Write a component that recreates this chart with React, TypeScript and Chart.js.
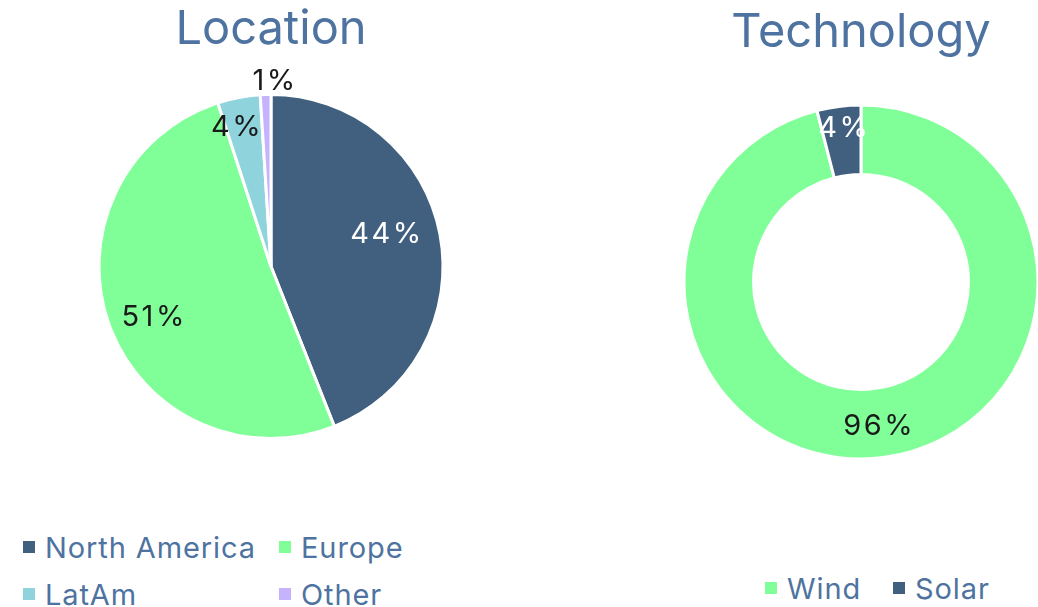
import React, { useEffect, useRef } from "react";
import { Chart, registerables } from "chart.js";

Chart.register(...registerables);

// ---- data ----
const locationLabels = ["North America", "Europe", "LatAm", "Other"];
const locationValues = [44, 51, 4, 1];
const locationColors = ["#41607f", "#80ff99", "#8fd3dc", "#c6b3fe"];

const technologyLabels = ["Wind", "Solar"];
const technologyValues = [96, 4];
const technologyColors = ["#80ff99", "#41607f"];

// ---- styles ----
const FONT = "Inter, 'DejaVu Sans', sans-serif";
const TEXT_BLUE = "#4e73a0";
const DARK = "#1a1a1a";

const sliceLabels = {
  id: "sliceLabels",
  afterDatasetsDraw(chart: any, _args: any, opts: any) {
    const meta = chart.getDatasetMeta(0);
    const data = chart.data.datasets[0].data as number[];
    const total = data.reduce((a, b) => a + b, 0);
    const ctx = chart.ctx as any;
    ctx.save();
    ctx.font = `${opts.size}px ${FONT}`;
    ctx.letterSpacing = opts.spacing || "0px";
    ctx.textAlign = "center";
    ctx.textBaseline = "middle";
    meta.data.forEach((arc: any, i: number) => {
      const p = arc.getProps(["x", "y", "startAngle", "endAngle", "innerRadius", "outerRadius"], true);
      const shift = (((opts.angle && opts.angle[i]) || 0) * Math.PI) / 180;
      const mid = (p.startAngle + p.endAngle) / 2 + shift;
      const r = p.innerRadius + (p.outerRadius - p.innerRadius) * opts.radial[i];
      const dx = (opts.dx && opts.dx[i]) || 0;
      ctx.fillStyle = opts.colors[i];
      ctx.fillText(
        Math.round((data[i] / total) * 100) + "%",
        p.x + Math.cos(mid) * r + dx,
        p.y + Math.sin(mid) * r
      );
    });
    ctx.restore();
  },
};

function PieChart(props: {
  type: "pie" | "doughnut";
  title: string;
  labels: string[];
  values: number[];
  colors: string[];
  radius: number;
  cutout: number;
  titlePadTop: number;
  padBottom: number;
  labelOpts: any;
}) {
  const ref = useRef<HTMLCanvasElement | null>(null);
  useEffect(() => {
    if (!ref.current) return;
    const chart = new Chart(ref.current, {
      type: props.type,
      data: {
        labels: props.labels,
        datasets: [
          {
            data: props.values,
            backgroundColor: props.colors,
            borderColor: "#ffffff",
            borderWidth: 3,
          },
        ],
      },
      options: {
        animation: false,
        responsive: true,
        maintainAspectRatio: false,
        radius: props.radius,
        cutout: props.cutout,
        events: [],
        layout: { padding: { top: 0, bottom: props.padBottom, left: 0, right: 0 } },
        plugins: {
          legend: { display: false },
          tooltip: { enabled: false },
          title: {
            display: true,
            text: props.title,
            color: TEXT_BLUE,
            font: { family: FONT, size: 47, weight: "normal", lineHeight: 1.2 },
            padding: { top: props.titlePadTop, bottom: 0 },
          },
          sliceLabels: props.labelOpts,
        },
      } as any,
      plugins: [sliceLabels as any],
    });
    return () => chart.destroy();
  }, []);
  return <canvas ref={ref} />;
}

function Legend(props: {
  labels: string[];
  colors: string[];
  positions: { x: number; y: number }[];
}) {
  return (
    <>
      {props.labels.map((label, i) => (
        <div
          key={label}
          style={{
            position: "absolute",
            left: props.positions[i].x,
            top: props.positions[i].y - 20,
            height: 40,
            display: "flex",
            alignItems: "center",
            whiteSpace: "nowrap",
          }}
        >
          <span
            style={{
              display: "inline-block",
              width: 12,
              height: 12,
              background: props.colors[i],
              marginRight: 10,
            }}
          />
          <span
            style={{
              fontFamily: FONT,
              fontSize: 29,
              lineHeight: 1,
              letterSpacing: "0.9px",
              color: TEXT_BLUE,
            }}
          >
            {label}
          </span>
        </div>
      ))}
    </>
  );
}

const locationLegendPos = [
  { x: 23, y: 547 },
  { x: 279, y: 547 },
  { x: 23, y: 594 },
  { x: 279, y: 594 },
];
const technologyLegendPos = [
  { x: 765, y: 588 },
  { x: 893, y: 588 },
];

export default function App() {
  return (
    <div
      style={{
        position: "absolute",
        left: 0,
        top: 0,
        width: 1038,
        height: 607,
        overflow: "hidden",
        background: "#ffffff",
      }}
    >
      <div style={{ position: "absolute", left: 0, top: 0, width: 542, height: 520 }}>
        <PieChart
          type="pie"
          title="Location"
          labels={locationLabels}
          values={locationValues}
          colors={locationColors}
          radius={172}
          cutout={0}
          titlePadTop={2}
          padBottom={45.4}
          labelOpts={{
            size: 29,
            spacing: "2.5px",
            radial: [0.7, 0.74, 0.832, 1.08],
            angle: [-4.6, -3.6, -2.9, 0],
            dx: [0, 0, 0, 10],
            colors: ["#ffffff", DARK, DARK, DARK],
          }}
        />
      </div>
      <div style={{ position: "absolute", left: 680, top: 0, width: 362, height: 520 }}>
        <PieChart
          type="doughnut"
          title="Technology"
          labels={technologyLabels}
          values={technologyValues}
          colors={technologyColors}
          radius={177}
          cutout={109}
          titlePadTop={5}
          padBottom={17.4}
          labelOpts={{
            size: 29,
            spacing: "2.5px",
            radial: [0.55, 0.68],
            angle: [0, 1],
            colors: [DARK, "#ffffff"],
          }}
        />
      </div>
      <Legend labels={locationLabels} colors={locationColors} positions={locationLegendPos} />
      <Legend labels={technologyLabels} colors={technologyColors} positions={technologyLegendPos} />
    </div>
  );
}
